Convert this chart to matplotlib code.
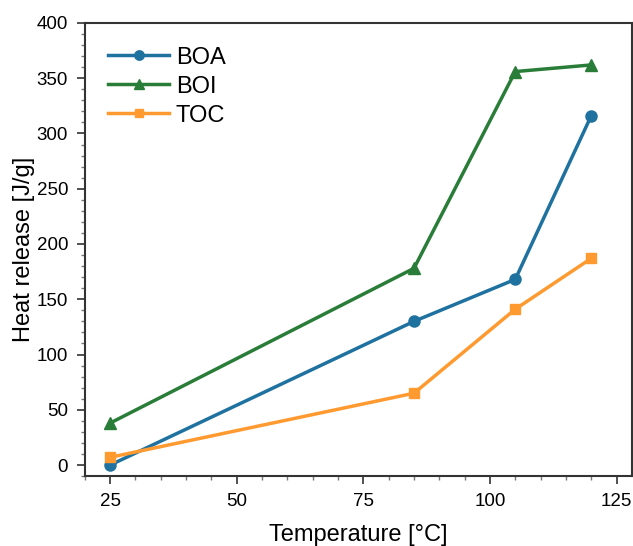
import matplotlib
matplotlib.use("Agg")
from matplotlib import pyplot as plt
from matplotlib.ticker import MultipleLocator

temps = [25, 85, 105, 120]
boa = [0, 130, 168, 316]
boi = [38, 178, 356, 362]
toc = [7, 65, 141, 187]

plt.rcParams['font.family'] = ['Liberation Sans', 'DejaVu Sans']


def main():
    fig = plt.figure(figsize=(6.33, 5.46), dpi=100)
    ax = fig.add_axes([0.134, 0.128, 0.864, 0.83])

    ax.plot(temps, boa, c="#1f72a0", linewidth=2.5, marker="o", markersize=8, label="BOA")
    ax.plot(temps, boi, c="#2a7d38", linewidth=2.5, marker="^", markersize=9, label="BOI")
    ax.plot(temps, toc, c="#ff9a30", linewidth=2.5, marker="s", markersize=7, label="TOC")

    ax.set_xlim(20, 128)
    ax.set_ylim(-10, 400)
    ax.xaxis.set_major_locator(MultipleLocator(25))
    ax.xaxis.set_minor_locator(MultipleLocator(5))
    ax.yaxis.set_major_locator(MultipleLocator(50))
    ax.yaxis.set_minor_locator(MultipleLocator(10))

    ax.tick_params(which="major", direction="out", length=6, width=1.2, labelsize=13.5,
                   pad=6, colors="#333333", labelcolor="black")
    ax.tick_params(which="minor", direction="out", length=3, width=1, colors="#777777")
    for s in ax.spines.values():
        s.set_linewidth(1.5)
        s.set_color("#333333")

    ax.set_xlabel("Temperature [°C]", fontsize=17, labelpad=10)
    ax.set_ylabel("Heat release [J/g]", fontsize=17, labelpad=1)

    ax.legend(loc="upper left", frameon=False, fontsize=17, handlelength=2.55,
              handletextpad=0.3, labelspacing=0.3, borderaxespad=0.6, markerscale=0.85)

    fig.savefig("out.png", dpi=100)


if __name__ == "__main__":
    main()
